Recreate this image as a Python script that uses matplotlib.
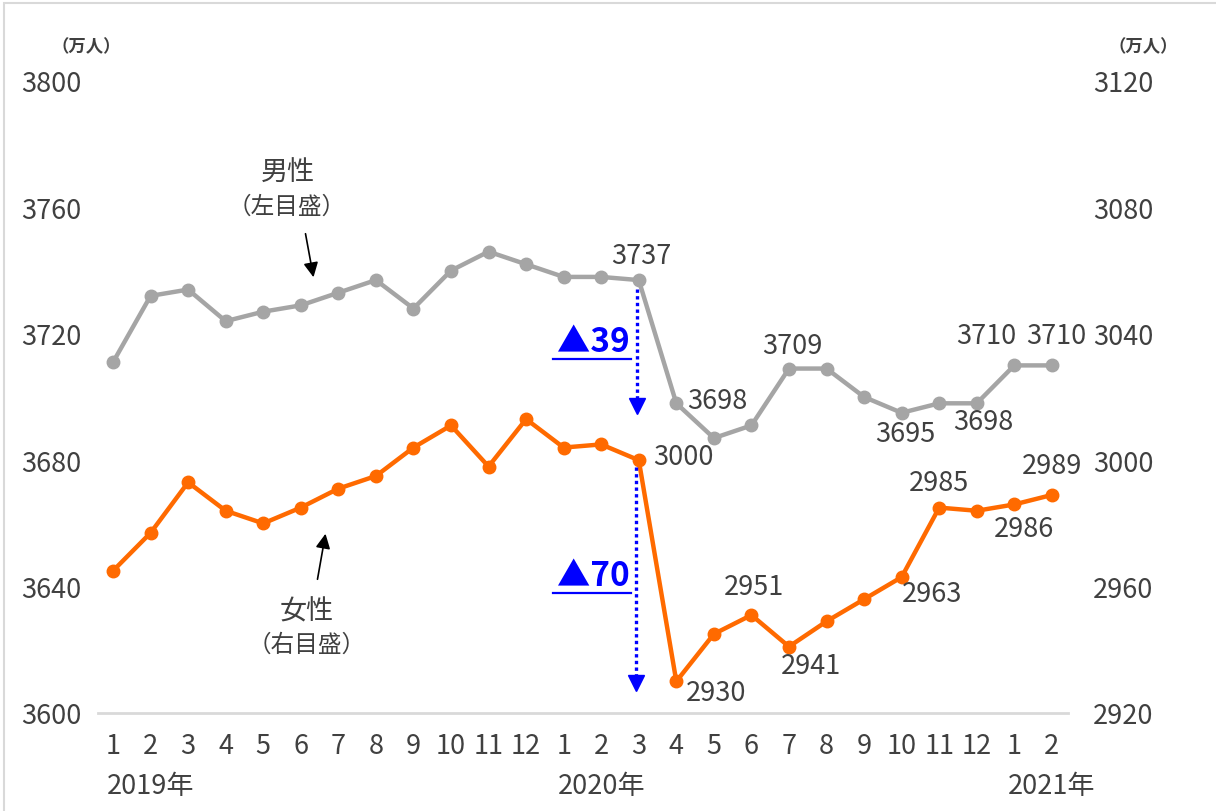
import matplotlib
matplotlib.use("Agg")
import matplotlib.pyplot as plt
from matplotlib.patches import Rectangle
from matplotlib.lines import Line2D

plt.rcParams['font.family'] = ['Noto Sans CJK JP', 'DejaVu Sans']

months = ["1", "2", "3", "4", "5", "6", "7", "8", "9", "10", "11", "12",
          "1", "2", "3", "4", "5", "6", "7", "8", "9", "10", "11", "12",
          "1", "2"]
years = {0: "2019年", 12: "2020年", 24: "2021年"}
men = [3711, 3732, 3734, 3724, 3727, 3729, 3733, 3737, 3728, 3740, 3746, 3742,
       3738, 3738, 3737, 3698, 3687, 3691, 3709, 3709, 3700, 3695, 3698, 3698,
       3710, 3710]
women = [2965, 2977, 2993, 2984, 2980, 2985, 2991, 2995, 3004, 3011, 2998, 3013,
         3004, 3005, 3000, 2930, 2945, 2951, 2941, 2949, 2956, 2963, 2985, 2984,
         2986, 2989]
left_ticks = [3600, 3640, 3680, 3720, 3760, 3800]
right_ticks = [2920, 2960, 3000, 3040, 3080, 3120]
men_labels = {14: (3, 25), 15: (41, 3), 18: (3, 23), 21: (4, -21), 23: (7, -18),
              24: (-28, 30), 25: (4, 30)}
women_labels = {14: (45, 4), 15: (40, -11), 17: (3, 29), 18: (22, -19),
                21: (30, -16), 22: (0, 25), 24: (10, -24), 25: (0, 29)}

GRAY = "#A5A5A5"
ORANGE = "#FF6A00"
TXT = "#404040"
BLUE = "#0000FF"

fig = plt.figure(figsize=(12.16, 8.12), dpi=100)
fig.patches.append(Rectangle((4/1216, -0.05), 1.2, 1.05 - 4/812, transform=fig.transFigure,
                             fill=False, edgecolor="#D9D9D9", linewidth=1.5))
ax = fig.add_axes([98/1216, 98/812, 970/1216, 632/812])
ax2 = ax.twinx()
x = list(range(len(months)))

ax.plot(x, men, color=GRAY, lw=3.2, marker='o', ms=9, zorder=3)
ax2.plot(x, women, color=ORANGE, lw=3.2, marker='o', ms=9, zorder=3)

ax.set_xlim(-0.4, 25.43)
ax.set_ylim(3600, 3800)
ax2.set_ylim(2920, 3120)
ax.set_yticks(left_ticks)
ax2.set_yticks(right_ticks)
ax.set_xticks(x)
ax.set_xticklabels(months)

for a in (ax, ax2):
    for s in a.spines.values():
        s.set_visible(False)
ax.spines['bottom'].set_visible(True)
ax.spines['bottom'].set_color("#D9D9D9")
ax.spines['bottom'].set_linewidth(2)

ax.tick_params(axis='y', length=0, pad=12, labelsize=19.5, labelcolor=TXT)
ax2.tick_params(axis='y', length=0, pad=18, labelsize=19.5, labelcolor=TXT)
ax.tick_params(axis='x', length=0, pad=14, labelsize=19.5, labelcolor=TXT)

xt = ax.get_xaxis_transform()
for i, s in years.items():
    ax.text(i - 0.16, -0.1155, s, transform=xt, ha='left', va='center',
            fontsize=19.5, color=TXT)

for i, off in men_labels.items():
    ax.annotate(str(men[i]), (i, men[i]), xytext=off, textcoords='offset pixels',
                ha='center', va='center', fontsize=19.5, color=TXT)
for i, off in women_labels.items():
    ax2.annotate(str(women[i]), (i, women[i]), xytext=off, textcoords='offset pixels',
                 ha='center', va='center', fontsize=19.5, color=TXT)

# unit labels
fig.text(86/1216, 1 - 47/812, "（万人）", ha='center', va='center', fontsize=12.5,
         fontweight='bold', color=TXT)
fig.text(1143/1216, 1 - 47/812, "（万人）", ha='center', va='center', fontsize=12.5,
         fontweight='bold', color=TXT)

# series notes
fig.text(288/1216, 1 - 173/812, "男性", ha='center', va='center', fontsize=19.5, color=TXT)
fig.text(287/1216, 1 - 207/812, "（左目盛）", ha='center', va='center', fontsize=17, color=TXT)
fig.text(307/1216, 1 - 612/812, "女性", ha='center', va='center', fontsize=19.5, color=TXT)
fig.text(307/1216, 1 - 645/812, "（右目盛）", ha='center', va='center', fontsize=17, color=TXT)

def fxy(px, py):
    return (px/1216, 1 - py/812)

ax.annotate("", xy=fxy(314, 281), xytext=fxy(305, 232), xycoords='figure fraction',
            textcoords='figure fraction',
            arrowprops=dict(arrowstyle='-|>', color='black', lw=1.2, mutation_scale=22))
ax.annotate("", xy=fxy(326, 532), xytext=fxy(317, 583), xycoords='figure fraction',
            textcoords='figure fraction',
            arrowprops=dict(arrowstyle='-|>', color='black', lw=1.2, mutation_scale=22))

# drop arrows
def drop(x0, y0, y1, label, ly):
    fig.add_artist(Line2D([x0/1216, x0/1216], [1 - y0/812, 1 - (y1 - 12)/812],
                          color=BLUE, lw=2.4, linestyle=(0, (1, 1))))
    fig.add_artist(Line2D([x0/1216], [1 - (y1 - 6)/812], marker='v', color=BLUE,
                          markersize=11, linestyle='none'))
    fig.text(593/1216, 1 - ly/812, label, ha='center', va='center', fontsize=24,
             fontweight='bold', color=BLUE)
    fig.add_artist(Line2D([553/1216, 631/1216], [1 - (ly + 17)/812, 1 - (ly + 17)/812],
                          color=BLUE, lw=1.6))

drop(637, 290, 413, "▲39", 343)
drop(636, 468, 690, "▲70", 577)

fig.savefig("out.png", dpi=100)
